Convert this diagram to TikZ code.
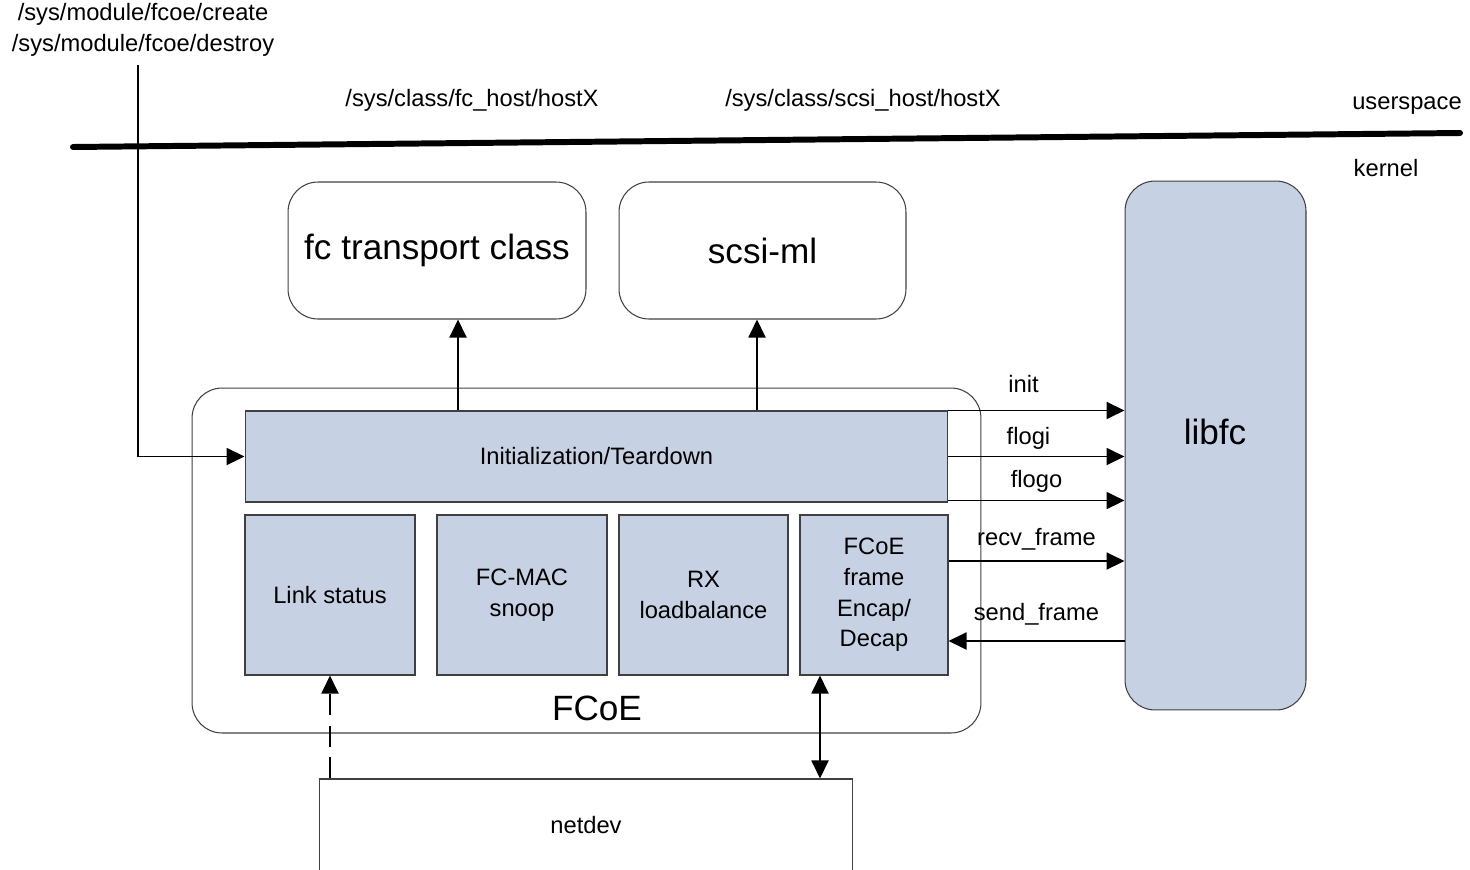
\documentclass[tikz,border=0pt]{standalone}
\usepackage{fontspec}
\setmainfont{Liberation Sans}
\usepackage{tikz}
\usetikzlibrary{positioning}
\usetikzlibrary{%
  calc,%
  arrows.meta%
}
\definecolor{boxblue}{HTML}{C6D1E3}
\definecolor{boxline}{HTML}{404040}
\tikzset{
  small/.style={font=\fontsize{13.5}{17.4}\selectfont, align=center},
  big/.style={font=\fontsize{20}{24}\selectfont, align=center},
  rbox/.style={draw=boxline, line width=0.6pt, rounded corners=0.6cm, inner sep=0pt},
  bbox/.style={draw=boxline, line width=0.6pt, fill=boxblue, inner sep=0pt, small},
  link/.style={line width=1.1pt}
}

\begin{document}
\begin{tikzpicture}[x=0.02cm, y=-0.02cm, >={Triangle[length=0.36cm,width=0.34cm]}]
	\useasboundingbox (0,0) rectangle (1470,869);
	%Nodes
	\node[small] (CMD) at (143,30) {/sys/module/fcoe/create\\/sys/module/fcoe/destroy};
	\node[small] (FCH) at (472,100) {/sys/class/fc\_host/hostX};
	\node[small] (SCH) at (863,100) {/sys/class/scsi\_host/hostX};
	\node[small] (US) at (1407,106) {userspace};
	\node[small] (KE) at (1386,168) {kernel};
	
	\node[rbox, big, minimum width=5.96cm, minimum height=2.74cm] (FC) at (437,250.5) {fc transport class};
	\node[rbox, big, minimum width=5.74cm, minimum height=2.74cm] (SCSI) at (762.5,250.5) {scsi-ml};
	\node[rbox, fill=boxblue, minimum width=3.62cm, minimum height=10.58cm] (LIB) at (1215.5,445.5) {};
	\node[big] (LIBT) at (1215,432) {libfc};
	
	\node[rbox, minimum width=15.78cm, minimum height=6.9cm] (FCOE) at (586.5,560.5) {};
	\node[big] (FCOET) at (597,708) {FCoE};
	\node[bbox, minimum width=14.06cm, minimum height=1.82cm] (INIT) at (596.5,456.5) {Initialization/Teardown};
	\node[bbox, minimum width=3.4cm, minimum height=3.2cm] (LS) at (330,595) {Link status};
	\node[bbox, minimum width=3.4cm, minimum height=3.2cm] (MAC) at (522,595) {FC-MAC\\snoop};
	\node[bbox, minimum width=3.38cm, minimum height=3.2cm] (RX) at (703.5,595) {RX\\loadbalance};
	\node[bbox, minimum width=2.96cm, minimum height=3.2cm] (ENC) at (874,595) {FCoE\\frame\\Encap/\\Decap};
	
	\node[draw=boxline, line width=0.6pt, small, minimum width=10.68cm, minimum height=1.84cm] (NET) at (586,825) {netdev};
	
	%Line
	\coordinate (UL) at (73,147);
	\coordinate (UR) at (1460,133);
	\draw[line width=3.4pt, line cap=round] (UL) -- (UR);
	
	%Up arrows
	\coordinate (CM) at (138,65);
	\coordinate (X1) at (458,0);
	\coordinate (X2) at (757,0);
	\coordinate (X3) at (820,0);
	\draw[link]
		(CM) edge[->, to path={|- (\tikztotarget)}] (INIT.west)
		(INIT.north -| X1) edge[->] (FC.south -| X1)
		(INIT.north -| X2) edge[->] (SCSI.south -| X2)
		(NET.north -| LS.south) edge[->, dashed, dash pattern=on 12pt off 6pt] (LS.south)
		(ENC.south -| X3) edge[<->] (NET.north -| X3)
	;
	%Right arrows
	\draw[link]
		(INIT.north east) edge[->] node[small, above=6pt, xshift=-0.26cm]{init} (INIT.north east -| LIB.west)
		(INIT.east) edge[->] node[small, above=0pt, xshift=-0.16cm]{flogi} (INIT.east -| LIB.west)
		([yshift=0.04cm]INIT.south east) edge[->] node[small, above=1pt]{flogo} ([yshift=0.04cm]INIT.south east -| LIB.west)
		([yshift=0.68cm]ENC.east) edge[->] node[small, above=2pt]{recv\_frame} ([yshift=0.68cm]ENC.east -| LIB.west)
		([yshift=-0.92cm]ENC.east -| LIB.west) edge[->] node[small, above=5pt]{send\_frame} ([yshift=-0.92cm]ENC.east)
	;
\end{tikzpicture}
\end{document}
